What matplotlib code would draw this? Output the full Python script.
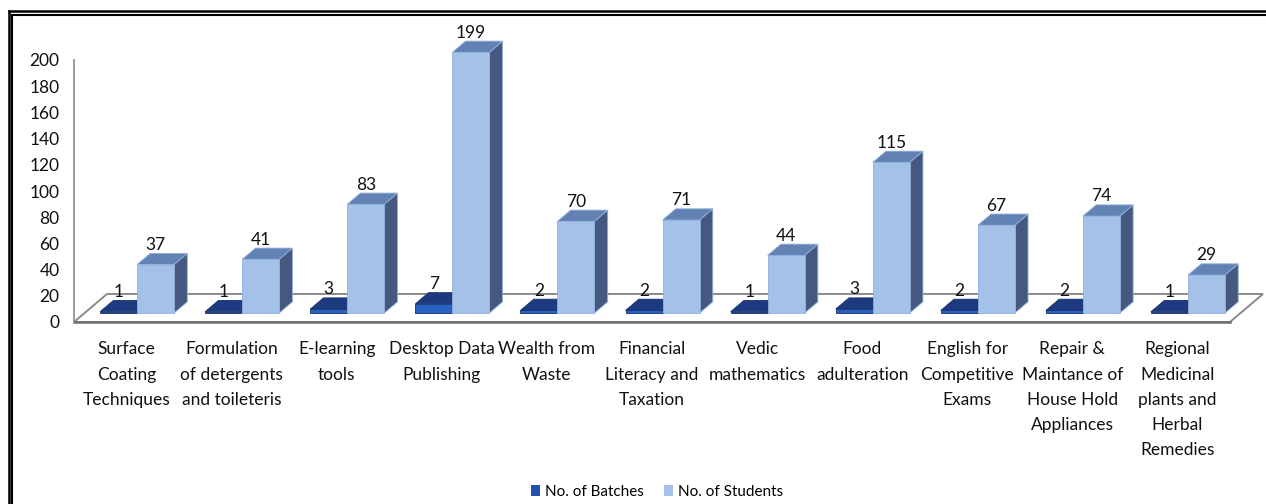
"""Batches and students per add-on course, Excel-style 3D column chart."""

import matplotlib.pyplot as plt
from matplotlib.lines import Line2D
from matplotlib.patches import Patch, Polygon

plt.rcParams["font.family"] = ["Lato", "DejaVu Sans"]

COURSES = [
    "Surface\nCoating\nTechniques",
    "Formulation\nof detergents\nand toileteris",
    "E-learning\ntools",
    "Desktop Data\nPublishing",
    "Wealth from\nWaste",
    "Financial\nLiteracy and\nTaxation",
    "Vedic\nmathematics",
    "Food\nadulteration",
    "English for\nCompetitive\nExams",
    "Repair &\nMaintance of\nHouse Hold\nAppliances",
    "Regional\nMedicinal\nplants and\nHerbal\nRemedies",
]
BATCHES = [1, 1, 3, 7, 2, 2, 1, 3, 2, 2, 1]
STUDENTS = [37, 41, 83, 199, 70, 71, 44, 115, 67, 74, 29]
SERIES_NAMES = ["No. of Batches", "No. of Students"]
Y_TICKS = list(range(0, 201, 20))

# 3D look: depth offset of the floor's back edge, in data units
DEPTH_X = 0.314
DEPTH_Y = 21.4
BAR_D0, BAR_D1 = 0.32, 0.72
BAR_W = 0.352

# face colours (front, top, side) for each series
FACES = {
    0: ("#2a62c4", "#1d3a80", "#142a5e"),
    1: ("#a4c2e8", "#6382b4", "#465880"),
}
EDGES = {0: "#16306a", 1: "#8fb0dd"}
LEGEND_COLORS = ["#2050b0", "#a4c2e8"]
FONT = 12.5


def proj(x, y, d):
    return (x + d * DEPTH_X, y + d * DEPTH_Y)


def draw_bar(ax, x0, value, series):
    front, top, side = FACES[series]
    x1 = x0 + BAR_W
    f = [proj(x0, 0, BAR_D0), proj(x1, 0, BAR_D0), proj(x1, value, BAR_D0), proj(x0, value, BAR_D0)]
    t = [proj(x0, value, BAR_D0), proj(x1, value, BAR_D0), proj(x1, value, BAR_D1), proj(x0, value, BAR_D1)]
    s = [proj(x1, 0, BAR_D0), proj(x1, 0, BAR_D1), proj(x1, value, BAR_D1), proj(x1, value, BAR_D0)]
    for pts, col in ((s, side), (t, top), (f, front)):
        ax.add_patch(Polygon(pts, closed=True, facecolor=col, edgecolor=EDGES[series],
                             linewidth=0.6, clip_on=False, zorder=3))
    # data label above the top face
    lx, _ = proj(x0 + BAR_W / 2, 0, BAR_D0)
    ax.text(lx, value + BAR_D1 * DEPTH_Y + 6.5, str(value), ha="center", va="center",
            fontsize=FONT, color="#111111", zorder=5, clip_on=False)


fig = plt.figure(figsize=(12.66, 5.04), dpi=100)
W, H = 1266, 504
ax = fig.add_axes([74 / W, (H - 322) / H, 1156 / W, 262 / H])
n = len(COURSES)
ax.set_xlim(0, n)
ax.set_ylim(0, 200)

# floor
floor = [proj(0, 0, 0), proj(n, 0, 0), proj(n, 0, 1), proj(0, 0, 1)]
ax.add_patch(Polygon(floor, closed=True, facecolor="white", edgecolor="#8a8a8a",
                     linewidth=1.4, clip_on=False, zorder=1))
ax.plot([0, n], [0, 0], color="#707070", linewidth=1.8, clip_on=False, zorder=2)

for i in range(n):
    c = i + 0.5
    draw_bar(ax, c - BAR_W, BATCHES[i], 0)
    draw_bar(ax, c, STUDENTS[i], 1)

for sp in ("top", "right", "bottom"):
    ax.spines[sp].set_visible(False)
ax.spines["left"].set_color("#8a8a8a")
ax.spines["left"].set_linewidth(1.2)
ax.set_yticks(Y_TICKS)
ax.set_xticks([i + 0.5 for i in range(n)])
ax.set_xticklabels(COURSES, linespacing=1.7, va="top")
ax.tick_params(axis="y", length=0, pad=10.5, labelsize=FONT, labelcolor="#111111")
ax.tick_params(axis="x", length=0, pad=14, labelsize=FONT, labelcolor="#111111")
ax.set_facecolor("none")

handles = [Patch(facecolor=col, edgecolor="none") for col in LEGEND_COLORS]
fig.legend(handles, SERIES_NAMES, loc="center", bbox_to_anchor=(0.519, 0.024), ncol=2,
           frameon=False, fontsize=11, handlelength=0.6, handleheight=0.75,
           handletextpad=0.35, columnspacing=1.3, borderpad=0)

# double frame line on top and left
for off, lw in ((0, 1.8), (3.5, 1.5)):
    y = 1 - (11 + off) / H
    x = (8.5 + off) / W
    fig.add_artist(Line2D([x, 1], [y, y], color="black", linewidth=lw))
    fig.add_artist(Line2D([x, x], [0, y], color="black", linewidth=lw))

fig.savefig("out.png", dpi=100)
